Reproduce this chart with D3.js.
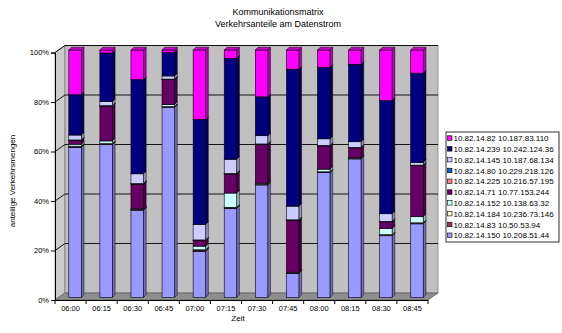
<!DOCTYPE html>
<html><head><meta charset="utf-8">
<script src="https://cdn.jsdelivr.net/npm/d3@7"></script>
<style>body{margin:0;background:#fff}svg{display:block}text{font-family:"Liberation Sans",Arial,sans-serif;fill:#000}</style>
</head><body><svg id="c" width="562" height="333"></svg>
<script>
const categories = ["06:00","06:15","06:30","06:45","07:00","07:15","07:30","07:45","08:00","08:15","08:30","08:45"];
// stack order bottom -> top
const seriesNames = ["10.82.14.150 10.208.51.44","10.82.14.83 10.50.53.94","10.82.14.184 10.236.73.146","10.82.14.152 10.138.63.32","10.82.14.71 10.77.153.244","10.82.14.225 10.216.57.195","10.82.14.80 10.229.218.126","10.82.14.145 10.187.68.134","10.82.14.239 10.242.124.36","10.82.14.82 10.187.83.110"];
const seriesColors = ["#9999FF","#993366","#FFFFCC","#CCFFFF","#660066","#FF8080","#0066CC","#CCCCFF","#000080","#FF00FF"];
const s150 = [60.4,62.1,35.6,77.2,18.8,36.2,45.9,9.8,50.7,56.4,25.1,29.9];
const s83  = [0.3,0.2,0.2,0.2,0.4,0.2,0.2,0.2,0.2,0.2,0.2,0.2];
const s184 = [0.2,0.2,0.1,0.1,0.2,0.2,0.1,0.1,0.1,0.1,0.2,0.2];
const s152 = [0.8,1.1,0.2,0.8,1.5,5.8,0.4,0.2,1.1,0.2,2.5,2.5];
const s71  = [1.5,14.1,10.1,10.1,2.3,7.7,15.8,21.1,9.4,4.0,2.7,20.7];
const s225 = [0.1,0.1,0.1,0.1,0.1,0.1,0.1,0.1,0.1,0.1,0.1,0.1];
const s80  = [0.1,0.1,0.1,0.1,0.1,0.1,0.1,0.1,0.1,0.1,0.1,0.1];
const s145 = [2.0,1.7,4.0,1.3,6.3,5.8,3.4,5.6,2.7,2.3,3.1,1.1];
const s239 = [16.2,19.7,38.3,9.4,42.7,40.9,15.8,55.7,29.0,31.5,45.9,36.2];
const s82  = [18.0,1.2,12.1,1.1,28.2,3.4,19.1,7.8,7.0,5.8,20.5,9.4];
const yTicks = [0,0.2,0.4,0.6,0.8,1];
const title1 = "Kommunikationsmatrix", title2 = "Verkehrsanteile am Datenstrom";
const xTitle = "Zeit", yTitle = "anteilige Verkehrsmengen";

const seriesValues = [s150,s83,s184,s152,s71,s225,s80,s145,s239,s82];
const rows = categories.map((c,i)=>{const r={cat:c}; seriesNames.forEach((n,k)=>r[n]=seriesValues[k][i]); return r;});
const stack = d3.stack().keys(seriesNames).offset(d3.stackOffsetExpand)(rows);

const svg = d3.select("#c");
const X0=55, X1=428, Y0=300, Y1=52.5, DX=10, DY=-7;
const x = d3.scaleBand().domain(categories).range([X0,X1]).padding(0);
const y = d3.scaleLinear().domain([0,1]).range([Y0,Y1]);

// walls
svg.append("polygon").attr("points",[[X0,Y1],[X0+DX,Y1+DY],[X0+DX,Y0+DY],[X0,Y0]].join(" ")).attr("fill","#cbcbcb").attr("stroke","#808080").attr("stroke-width",0.8);
svg.append("polygon").attr("points",[[X0+DX,Y1+DY],[X1+DX,Y1+DY],[X1+DX,Y0+DY],[X0+DX,Y0+DY]].join(" ")).attr("fill","#c0c0c0").attr("stroke","#808080").attr("stroke-width",0.8);
svg.append("polygon").attr("points",[[X0,Y0],[X0+DX,Y0+DY],[X1+DX,Y0+DY],[X1,Y0]].join(" ")).attr("fill","#8e8e8e").attr("stroke","#606060").attr("stroke-width",0.8);

// gridlines
yTicks.filter(t=>t>0).forEach(t=>{
  const yy=y(t);
  svg.append("path").attr("d",`M${X0},${yy}L${X0+DX},${yy+DY}L${X1+DX},${yy+DY}`).attr("fill","none").attr("stroke","#000").attr("stroke-width",0.9);
});

// bars
const BW=12.5, BOX=4.5, BOY=-2.5, BD=2.7;
const g = svg.append("g");
categories.forEach((c,i)=>{
  const cx = x(c)+x.bandwidth()/2 + BOX;
  const left = cx-BW/2, right = cx+BW/2;
  stack.forEach((s,k)=>{
    const d = s[i];
    if (d[1]-d[0] <= 0) return;
    const yb = y(d[0])+BOY, yt = y(d[1])+BOY;
    const col = d3.color(seriesColors[k]);
    g.append("polygon").attr("points",[[right,yb],[right+BD,yb-BD],[right+BD,yt-BD],[right,yt]].join(" "))
      .attr("fill",col.darker(0.9)).attr("stroke","#000").attr("stroke-width",0.5);
    g.append("rect").attr("x",left).attr("y",yt).attr("width",BW).attr("height",yb-yt)
      .attr("fill",col).attr("stroke","#000").attr("stroke-width",0.6);
    g.append("polygon").attr("points",[[left,yt],[left+BD,yt-BD],[right+BD,yt-BD],[right,yt]].join(" "))
      .attr("fill",col.darker(0.6)).attr("stroke","#000").attr("stroke-width",0.5);
  });
});

// axes
const yAxis = d3.axisLeft(y).tickValues(yTicks).tickFormat(d3.format(".0%")).tickSize(4).tickPadding(2);
const ya = svg.append("g").attr("transform",`translate(${X0},0)`).call(yAxis);
ya.select(".domain").attr("stroke","#000");
ya.selectAll("text").attr("font-size","7.5px").attr("font-family","Liberation Sans, Arial");
const xa = svg.append("g").attr("transform",`translate(0,${Y0})`).call(d3.axisBottom(x).tickSize(0).tickPadding(6));
xa.select(".domain").attr("stroke","#000");
xa.selectAll("text").attr("font-size","7.5px").attr("font-family","Liberation Sans, Arial");
// boundary ticks between categories
const bounds = categories.map(c=>x(c)).concat([X1]);
svg.append("g").selectAll("line").data(bounds).join("line")
  .attr("x1",d=>d).attr("x2",d=>d).attr("y1",Y0).attr("y2",Y0+4).attr("stroke","#000");

// titles
svg.append("text").attr("x",278).attr("y",15).attr("text-anchor","middle").attr("font-size","9px").text(title1);
svg.append("text").attr("x",278).attr("y",27).attr("text-anchor","middle").attr("font-size","9px").text(title2);
svg.append("text").attr("x",238).attr("y",321).attr("text-anchor","middle").attr("font-size","8px").text(xTitle);
svg.append("text").attr("transform","translate(15,181) rotate(-90)").attr("text-anchor","middle").attr("font-size","8px").text(yTitle);

// legend
const LX=446, LY=132, LW=113, LH=110, RS=10.8;
svg.append("rect").attr("x",LX).attr("y",LY).attr("width",LW).attr("height",LH).attr("fill","#fff").attr("stroke","#000").attr("stroke-width",0.8);
const legendOrder = d3.range(seriesNames.length).reverse();
const lg = svg.append("g").selectAll("g").data(legendOrder).join("g")
  .attr("transform",(d,j)=>`translate(${LX+1.5},${LY+6.3+j*RS})`);
lg.append("rect").attr("x",0).attr("y",-2.5).attr("width",4.5).attr("height",4.5).attr("fill",d=>seriesColors[d]).attr("stroke","#000").attr("stroke-width",0.6);
lg.append("text").attr("x",6).attr("y",2.8).attr("font-size","8px").text(d=>seriesNames[d]);
</script></body></html>
